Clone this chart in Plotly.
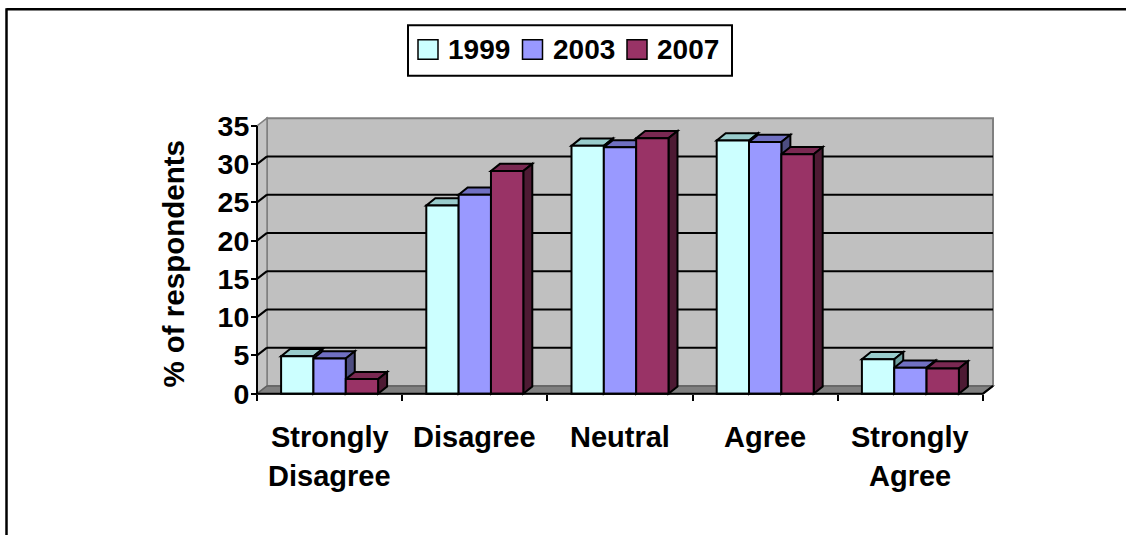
import plotly.graph_objects as go

# ---- data ---------------------------------------------------------------
categories = ["Strongly\nDisagree", "Disagree", "Neutral", "Agree", "Strongly\nAgree"]
years = ["1999", "2003", "2007"]
values_1999 = [4.9, 24.6, 32.4, 33.1, 4.5]
values_2003 = [4.6, 26.0, 32.2, 32.9, 3.4]
values_2007 = [1.9, 29.1, 33.4, 31.3, 3.3]
y_ticks = [0, 5, 10, 15, 20, 25, 30, 35]
y_title = "% of respondents"

series = [values_1999, values_2003, values_2007]
front_colors = ["#CCFFFF", "#9999FF", "#993366"]
top_colors = ["#99CCCC", "#7070C2", "#7A2952"]
side_colors = ["#6E9E9E", "#4D4D80", "#4D1A33"]

# ---- geometry of the pseudo-3D plot box ---------------------------------
W, H = 1126, 535
FONT = "Arial, Liberation Sans, sans-serif"
X_LEFT_PX = 257.0          # front-left corner of the floor
CAT_PX = 145.2             # width of one category slot
Y_ZERO_PX = 402.7          # front edge of the floor (value 0)
Y_UNIT_PX = 276.0 / 35     # pixels per percentage point
FLOOR_DEPTH_PX = (10.0, 8.0)
BAR_DEPTH_PX = (9.0, 7.4)
GROUP_FRAC = 0.668

X_LO, X_HI = -0.53, 4.6
Y_LO, Y_HI = -0.4, 36.6
Y_MAX = y_ticks[-1]


def px_x(v):
    return X_LEFT_PX + (v + 0.5) * CAT_PX


def px_y(v):
    return Y_ZERO_PX - v * Y_UNIT_PX


x_domain = [px_x(X_LO) / W, px_x(X_HI) / W]
y_domain = [1 - px_y(Y_LO) / H, 1 - px_y(Y_HI) / H]

dx = FLOOR_DEPTH_PX[0] / CAT_PX
dy = FLOOR_DEPTH_PX[1] / Y_UNIT_PX
bdx = BAR_DEPTH_PX[0] / CAT_PX
bdy = BAR_DEPTH_PX[1] / Y_UNIT_PX

n = len(categories)
xs = list(range(n))
x_left, x_right = -0.5, n - 0.5
bw = GROUP_FRAC / len(series)


def poly(pts):
    return "M " + " L ".join(f"{x:.5f},{y:.5f}" for x, y in pts) + " Z"


shapes = []

# walls and floor
shapes.append(dict(type="path", xref="x", yref="y", layer="below",
                   path=poly([(x_left + dx, dy), (x_right + dx, dy),
                              (x_right + dx, Y_MAX + dy), (x_left + dx, Y_MAX + dy)]),
                   fillcolor="#C0C0C0", line=dict(color="#808080", width=2)))
shapes.append(dict(type="path", xref="x", yref="y", layer="below",
                   path=poly([(x_left, 0), (x_left, Y_MAX),
                              (x_left + dx, Y_MAX + dy), (x_left + dx, dy)]),
                   fillcolor="#C4C4C4", line=dict(color="#808080", width=1.5)))
shapes.append(dict(type="path", xref="x", yref="y", layer="below",
                   path=poly([(x_left, 0), (x_right, 0),
                              (x_right + dx, dy), (x_left + dx, dy)]),
                   fillcolor="#808080", line=dict(color="#606060", width=1.5)))

# gridlines on the back wall and the left wall
for v in y_ticks[1:-1]:
    shapes.append(dict(type="line", xref="x", yref="y", layer="below",
                       x0=x_left + dx, x1=x_right + dx, y0=v + dy, y1=v + dy,
                       line=dict(color="black", width=2)))
    shapes.append(dict(type="line", xref="x", yref="y", layer="below",
                       x0=x_left, x1=x_left + dx, y0=v, y1=v + dy,
                       line=dict(color="black", width=2)))

# top and side faces of each bar, left to right so nearer boxes overlap
traces = []
for c in xs:
    for s, vals in enumerate(series):
        h = vals[c]
        l = c - GROUP_FRAC / 2 + s * bw
        r = l + bw
        shapes.append(dict(type="path", xref="x", yref="y", layer="below",
                           path=poly([(l, h), (r, h), (r + bdx, h + bdy), (l + bdx, h + bdy)]),
                           fillcolor=top_colors[s], line=dict(color="black", width=2)))
        shapes.append(dict(type="path", xref="x", yref="y", layer="below",
                           path=poly([(r, 0), (r + bdx, bdy), (r + bdx, h + bdy), (r, h)]),
                           fillcolor=side_colors[s], line=dict(color="black", width=2)))

for s, vals in enumerate(series):
    traces.append(go.Bar(
        x=xs, y=vals, name=years[s],
        width=bw, offset=-GROUP_FRAC / 2 + s * bw,
        marker=dict(color=front_colors[s], line=dict(color="black", width=2)),
        showlegend=False,
    ))

# axis lines
shapes.append(dict(type="line", xref="x", yref="y", layer="above",
                   x0=x_left, x1=x_left, y0=0, y1=Y_MAX,
                   line=dict(color="black", width=2)))
shapes.append(dict(type="path", xref="x", yref="y", layer="above",
                   path=f"M {x_left},0 L {x_right},0 L {x_right + dx:.5f},{dy:.5f}",
                   line=dict(color="black", width=2)))

# legend box
LEG_BOX = (408, 23, 732, 75)
SW_X0, SW_STEP, SW_SIZE, SW_Y = 418, 104.5, 20, 38
shapes.append(dict(type="rect", xref="paper", yref="paper",
                   x0=LEG_BOX[0] / W, x1=LEG_BOX[2] / W,
                   y0=1 - LEG_BOX[3] / H, y1=1 - LEG_BOX[1] / H,
                   fillcolor="white", line=dict(color="black", width=2)))
annotations = []
for s, name in enumerate(years):
    sx = SW_X0 + s * SW_STEP
    shapes.append(dict(type="rect", xref="paper", yref="paper",
                       x0=sx / W, x1=(sx + SW_SIZE) / W,
                       y0=1 - (SW_Y + SW_SIZE) / H, y1=1 - SW_Y / H,
                       fillcolor=front_colors[s], line=dict(color="black", width=1.5)))
    annotations.append(dict(xref="paper", yref="paper", x=(sx + 28) / W,
                            y=1 - (SW_Y + SW_SIZE / 2) / H,
                            xanchor="left", yanchor="middle", showarrow=False,
                            text=name, font=dict(family=FONT, size=28, color="black",
                                                 weight="bold")))

# outer frame: only the top and left edges fall inside the page
FRAME_PX = 6.5
shapes.append(dict(type="line", xref="paper", yref="paper",
                   x0=FRAME_PX / W, x1=1.1, y0=1 - FRAME_PX / H, y1=1 - FRAME_PX / H,
                   line=dict(color="black", width=2.5)))
shapes.append(dict(type="line", xref="paper", yref="paper",
                   x0=FRAME_PX / W, x1=FRAME_PX / W, y0=-0.1, y1=1 - (FRAME_PX - 1.2) / H,
                   line=dict(color="black", width=2.5)))

# category labels (one annotation per text line)
LABEL_Y_PX, LABEL_LINE_PX = 447.0, 41.0
for c, label in zip(xs, categories):
    for k, line in enumerate(label.split("\n")):
        annotations.append(dict(xref="x", yref="paper", x=c,
                                y=1 - (LABEL_Y_PX + k * LABEL_LINE_PX) / H,
                                xanchor="center", yanchor="middle", showarrow=False,
                                text=line, font=dict(family=FONT, size=29, color="black",
                                                     weight="bold")))

# y axis title
annotations.append(dict(xref="paper", yref="y", x=174 / W, y=Y_MAX / 2 - 0.5,
                        xanchor="center", yanchor="middle", showarrow=False,
                        textangle=-90, text=y_title,
                        font=dict(family=FONT, size=29.5, color="black", weight="bold")))

fig = go.Figure(traces)
fig.update_layout(
    width=W, height=H,
    margin=dict(l=0, r=0, t=0, b=0),
    paper_bgcolor="white", plot_bgcolor="rgba(0,0,0,0)",
    barmode="overlay",
    shapes=shapes, annotations=annotations,
    xaxis=dict(domain=x_domain, range=[X_LO, X_HI], anchor="free",
               position=1 - Y_ZERO_PX / H,
               showgrid=False, zeroline=False, showline=False,
               tickmode="array", tickvals=[v - 0.5 for v in range(n + 1)],
               showticklabels=False, ticks="outside", ticklen=6, tickwidth=2,
               tickcolor="black", fixedrange=True),
    yaxis=dict(domain=y_domain, range=[Y_LO, Y_HI], anchor="free",
               position=X_LEFT_PX / W,
               showgrid=False, zeroline=False, showline=False,
               tickmode="array", tickvals=y_ticks, ticks="outside", ticklen=6,
               tickwidth=2, tickcolor="black", ticklabelstandoff=-4,
               tickfont=dict(family=FONT, size=28.5, color="black", weight="bold"),
               fixedrange=True),
    hovermode=False,
)

fig.write_html("out.html")
